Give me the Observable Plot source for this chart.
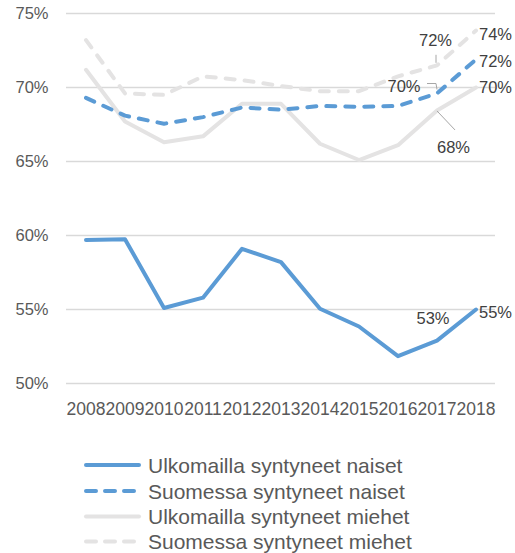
<!DOCTYPE html>
<html>
<head>
<meta charset="utf-8">
<script src="https://cdn.jsdelivr.net/npm/d3@7"></script>
<script src="https://cdn.jsdelivr.net/npm/@observablehq/plot@0.6"></script>
<style>
  html, body { margin: 0; padding: 0; background: #fff; }
  #chart svg { display: block; }
</style>
</head>
<body>
<div id="chart"></div>
<script>
const years = [2008, 2009, 2010, 2011, 2012, 2013, 2014, 2015, 2016, 2017, 2018];
const ulkoNaiset  = [59.7, 59.75, 55.1, 55.8, 59.1, 58.2, 55.05, 53.85, 51.85, 52.9, 55.0];
const suomiNaiset = [69.3, 68.1, 67.55, 68.0, 68.65, 68.5, 68.75, 68.7, 68.75, 69.6, 71.9];
const ulkoMiehet  = [71.2, 67.7, 66.3, 66.7, 68.9, 68.9, 66.2, 65.1, 66.1, 68.45, 70.0];
const suomiMiehet = [73.2, 69.6, 69.5, 70.75, 70.5, 70.1, 69.75, 69.75, 70.75, 71.5, 73.85];
const seriesNames = ["Ulkomailla syntyneet naiset", "Suomessa syntyneet naiset", "Ulkomailla syntyneet miehet", "Suomessa syntyneet miehet"];
const yTicks = [50, 55, 60, 65, 70, 75];

const BLUE = "#5B9BD5", GRAY = "#E4E3E3";
const seriesStyle = [
  {values: ulkoNaiset,  color: BLUE, dash: null},
  {values: suomiNaiset, color: BLUE, dash: "9,10"},
  {values: ulkoMiehet,  color: GRAY, dash: null},
  {values: suomiMiehet, color: GRAY, dash: "9,10"}
];
const rows = seriesStyle.map((s, i) => years.map((yr, j) => ({series: seriesNames[i], year: yr, value: s.values[j]})));

// labelled points: [series index, year index, dx, dy, anchor]
const labelSpec = [
  [3, 10, 3, 4, "start"], [1, 10, 3, 2, "start"], [2, 10, 3, 0.5, "start"], [0, 10, 3, 3, "start"],
  [3, 9, -1.5, -25, "middle"], [1, 9, -33, -7, "middle"], [2, 9, 16.5, 37, "middle"], [0, 9, -4, -22, "middle"]
];
const labels = labelSpec.map(([s, j, dx, dy, anchor]) => ({
  year: years[j], value: seriesStyle[s].values[j], text: Math.round(seriesStyle[s].values[j]) + "%", dx, dy, anchor
}));
// leader lines: [series index, year index, pixel offsets]
const leaders = [
  [3, 9, [[-0.5, -10], [-0.5, -2]]],
  [1, 9, [[-9.5, -9.4], [-0.5, -9.4], [0.5, -3.4]]],
  [2, 9, [[0.5, 1], [18.5, 20]]]
];

const font = "'Liberation Sans', Arial, sans-serif";

const leaderMark = (index, scales) => {
  const g = d3.create("svg:g").attr("fill", "none").attr("stroke", "#A6A6A6").attr("stroke-width", 1);
  for (const [s, j, pts] of leaders) {
    const px = scales.x(years[j]), py = scales.y(seriesStyle[s].values[j]);
    g.append("path").attr("d", "M" + pts.map(([a, b]) => `${px + a},${py + b}`).join("L"));
  }
  return g.node();
};

const plot = Plot.plot({
  width: 515, height: 440,
  marginLeft: 66, marginRight: 20, marginTop: 13, marginBottom: 57,
  x: {type: "linear", domain: [2007.5, 2018.5]},
  y: {domain: [50, 75]},
  style: {fontFamily: font, background: "white", overflow: "visible"},
  marks: [
    Plot.gridY(yTicks, {stroke: "#D9D9D9", strokeOpacity: 1, strokeWidth: 1.5}),
    Plot.axisY({ticks: yTicks, tickSize: 0, tickPadding: 18, tickFormat: d => d + "%", fontSize: 16.5, fill: "#595959", label: null}),
    Plot.axisX({ticks: years, tickSize: 0, tickPadding: 19, tickFormat: d => String(d), fontSize: 17.5, fill: "#595959", label: null}),
    ...[3, 2, 1, 0].map(i => Plot.line(rows[i], {
      x: "year", y: "value", stroke: seriesStyle[i].color, strokeWidth: 4,
      strokeDasharray: seriesStyle[i].dash, strokeLinecap: "round", strokeLinejoin: "round"
    })),
    leaderMark,
    ...labels.map(d => Plot.text([d], {
      x: "year", y: "value", text: "text", textAnchor: d.anchor, fontSize: 16.5, fill: "#404040",
      dx: d.dx, dy: d.dy
    }))
  ]
});
document.getElementById("chart").appendChild(plot);

// legend below the plot
const legend = d3.create("svg").attr("width", 515).attr("height", 113)
  .style("display", "block").style("font-family", font);
const rowY = [25, 51, 76.5, 101.5];
seriesStyle.forEach((s, i) => {
  const g = legend.append("g").attr("transform", `translate(0,${rowY[i]})`);
  g.append("line").attr("x1", 86).attr("x2", 139).attr("y1", 0).attr("y2", 0)
    .attr("stroke", s.color).attr("stroke-width", 4).attr("stroke-linecap", "round")
    .attr("stroke-dasharray", s.dash ? "10,9" : null);
  g.append("text").attr("x", 148).attr("y", 0).attr("dy", "0.36em")
    .attr("font-size", 21).attr("fill", "#595959").text(seriesNames[i]);
});
document.getElementById("chart").appendChild(legend.node());
</script>
</body>
</html>
